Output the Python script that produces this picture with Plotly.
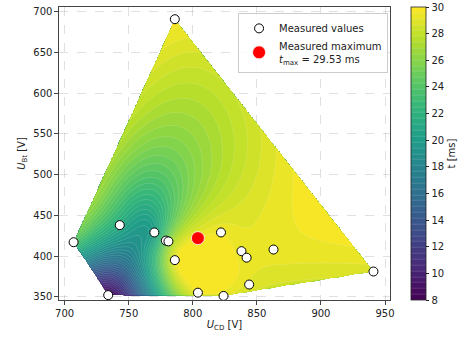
import numpy as np
import plotly.graph_objects as go

# Measured points
u_cd = [786, 707, 734, 743, 770, 779, 781, 804, 822, 786, 838, 842, 863, 844, 804, 824, 941]
u_bt = [691, 417, 352, 438, 429, 419, 418, 422, 429, 395, 406, 398, 408, 365, 355, 351, 381]
t_ms = [29.9, 23.8, 8.5, 21.5, 20.6, 25.0, 26.0, 29.53, 29.5, 29.2, 29.3, 29.3, 29.3, 29.0, 29.4, 29.2, 28.9]
t_max = 29.53
x_max, y_max = 804, 422
cbar_ticks = [8, 10, 12, 14, 16, 18, 20, 22, 24, 26, 28, 30]

X = np.array(u_cd, float); Y = np.array(u_bt, float); Z = np.array(t_ms, float)
sx, sy = 250.0, 450.0
xn, yn = (X - 700) / sx, (Y - 350) / sy

def tps_phi(r):
    with np.errstate(divide="ignore", invalid="ignore"):
        v = r ** 2 * np.log(r)
    return np.nan_to_num(v)

n = len(X)
K = tps_phi(np.hypot(xn[:, None] - xn[None, :], yn[:, None] - yn[None, :]))
Pm = np.column_stack([np.ones(n), xn, yn])
A = np.zeros((n + 3, n + 3))
A[:n, :n] = K; A[:n, n:] = Pm; A[n:, :n] = Pm.T
rhs = np.concatenate([Z, np.zeros(3)])
sol = np.linalg.solve(A, rhs)
w, a = sol[:n], sol[n:]

gx = np.linspace(700, 945, 330)
gy = np.linspace(348, 695, 360)
GX, GY = np.meshgrid(gx, gy)
gxn, gyn = (GX - 700) / sx, (GY - 350) / sy
R = np.hypot(gxn[..., None] - xn, gyn[..., None] - yn)
GZ = tps_phi(R) @ w + a[0] + a[1] * gxn + a[2] * gyn
GZ = np.clip(GZ, 8, 29.99)

# convex hull of the measured points
pts = sorted(set(zip(u_cd, u_bt)))
def cross(o, p, q):
    return (p[0] - o[0]) * (q[1] - o[1]) - (p[1] - o[1]) * (q[0] - o[0])
lower, upper = [], []
for p in pts:
    while len(lower) >= 2 and cross(lower[-2], lower[-1], p) <= 0:
        lower.pop()
    lower.append(p)
for p in reversed(pts):
    while len(upper) >= 2 and cross(upper[-2], upper[-1], p) <= 0:
        upper.pop()
    upper.append(p)
hull = lower[:-1] + upper[:-1]
inside = np.ones(GX.shape, bool)
for i in range(len(hull)):
    p, q = hull[i], hull[(i + 1) % len(hull)]
    inside &= ((q[0] - p[0]) * (GY - p[1]) - (q[1] - p[1]) * (GX - p[0])) >= -1e-9
GZ = np.where(inside, GZ, np.nan)

font = dict(family="DejaVu Sans", size=10, color="#222")

fig = go.Figure()
fig.add_trace(go.Contour(
    x=gx, y=gy, z=GZ, zmin=8, zmax=30,
    colorscale="Viridis",
    contours=dict(start=8, end=30, size=0.44, coloring="fill"),
    line=dict(color="rgba(255,255,255,0.3)", width=0.5),
    connectgaps=False, showlegend=False, hoverinfo="skip",
    colorbar=dict(
        x=1.0625, xanchor="left", y=0.5, yanchor="middle", len=1.0, lenmode="fraction",
        xpad=0, ypad=0, thickness=15, outlinecolor="#222", outlinewidth=0.8,
        tickvals=cbar_ticks, ticks="outside", ticklen=3.5, tickcolor="#222",
        tickfont=font,
        title=dict(text="t [ms]", side="right", font=font),
    ),
))
fig.add_trace(go.Scatter(
    x=u_cd, y=u_bt, mode="markers", name="Measured values",
    marker=dict(size=9, color="white", line=dict(color="black", width=1)),
))
fig.add_trace(go.Scatter(
    x=[x_max], y=[y_max], mode="markers",
    name=f"Measured maximum<br><i>t</i><sub>max</sub> = {t_max:.2f} ms",
    marker=dict(size=13, color="red", line=dict(color="white", width=0.8)),
))

axis_common = dict(
    showline=True, linecolor="#444", linewidth=1.2, mirror=True,
    ticks="outside", ticklen=3.5, tickcolor="#444", automargin=False,
    showgrid=True, gridcolor="rgba(0,0,0,0.12)", griddash="dash", gridwidth=0.8,
    zeroline=False, tickfont=font,
)
fig.update_xaxes(range=[695.6, 953.9], tickvals=[700, 750, 800, 850, 900, 950],
                 title=dict(text="<i>U</i><sub>CD</sub> [V]", standoff=3, font=font), **axis_common)
fig.update_yaxes(range=[346, 706], tickvals=[350, 400, 450, 500, 550, 600, 650, 700],
                 title=dict(text="<i>U</i><sub>Bt</sub> [V]", standoff=5, font=font), **axis_common)
fig.update_layout(
    width=467, height=338, margin=dict(l=59, r=77, t=7, b=38),
    paper_bgcolor="white", plot_bgcolor="white",
    legend=dict(x=0.541, y=0.98, xanchor="left", yanchor="top",
                bgcolor="rgba(255,255,255,0.85)", bordercolor="#ccc", borderwidth=1,
                font=font, itemwidth=30, tracegroupgap=2),
)
fig.write_html("out.html", config={"displayModeBar": False},
               post_script="document.body.style.margin='0';")
